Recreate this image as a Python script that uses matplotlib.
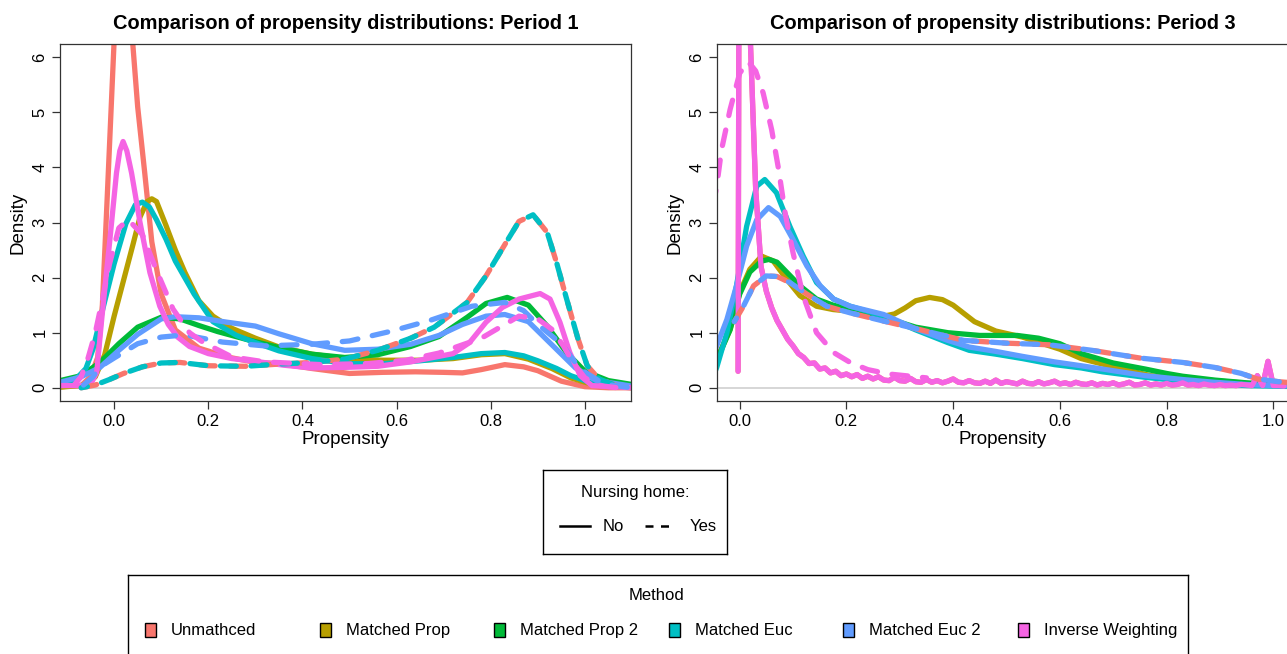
import numpy as np
import matplotlib.pyplot as plt
from matplotlib.patches import Rectangle

methods = ["Unmathced", "Matched Prop", "Matched Prop 2", "Matched Euc", "Matched Euc 2", "Inverse Weighting"]
colors = ["#F8766D", "#B79F00", "#00BA38", "#00BFC4", "#619CFF", "#F564E3"]
nursing = ["No", "Yes"]

# ---- Period 1 : control (No, solid) ----
p1_unm_no_x = [-0.115, -0.07, -0.05, -0.035, -0.025, -0.015, 0.0, 0.01, 0.02, 0.03, 0.04, 0.05, 0.065, 0.08,
               0.1, 0.13, 0.18, 0.24, 0.3, 0.35, 0.42, 0.5, 0.57, 0.64, 0.7, 0.74, 0.78, 0.83, 0.87, 0.9,
               0.95, 1.0, 1.05, 1.1]
p1_unm_no_y = [0.02, 0.04, 0.2, 0.55, 1.5, 3.4, 6.3, 7.4, 7.8, 7.2, 6.2, 5.1, 3.9, 2.65,
               1.7, 1.05, 0.72, 0.56, 0.46, 0.44, 0.35, 0.26, 0.28, 0.29, 0.28, 0.27, 0.33, 0.42, 0.38, 0.31,
               0.12, 0.02, 0.0, 0.0]
p1_mp_no_x = [-0.115, -0.06, -0.04, -0.02, 0.0, 0.02, 0.04, 0.055, 0.07, 0.08, 0.09, 0.11, 0.13, 0.15, 0.18,
              0.21, 0.25, 0.3, 0.35, 0.42, 0.5, 0.57, 0.65, 0.72, 0.78, 0.83, 0.88, 0.93, 0.97, 1.02, 1.1]
p1_mp_no_y = [0.01, 0.05, 0.2, 0.6, 1.3, 1.95, 2.6, 3.1, 3.38, 3.43, 3.38, 2.95, 2.5, 2.1, 1.58,
              1.3, 1.08, 0.9, 0.74, 0.61, 0.52, 0.5, 0.5, 0.53, 0.6, 0.62, 0.52, 0.35, 0.18, 0.05, 0.0]
p1_mp2_no_x = [-0.115, -0.07, -0.03, 0.01, 0.05, 0.1, 0.14, 0.18, 0.22, 0.28, 0.35, 0.42, 0.49, 0.56, 0.63,
               0.69, 0.75, 0.79, 0.835, 0.88, 0.92, 0.96, 1.0, 1.05, 1.1]
p1_mp2_no_y = [0.13, 0.22, 0.46, 0.8, 1.1, 1.28, 1.25, 1.13, 1.02, 0.88, 0.73, 0.61, 0.55, 0.6, 0.75,
               0.93, 1.28, 1.53, 1.64, 1.5, 1.12, 0.65, 0.3, 0.13, 0.06]
p1_me_no_x = [-0.115, -0.085, -0.06, -0.045, -0.025, 0.0, 0.025, 0.045, 0.06, 0.075, 0.09, 0.11, 0.13, 0.17,
              0.21, 0.26, 0.3, 0.35, 0.42, 0.49, 0.56, 0.65, 0.72, 0.78, 0.83, 0.87, 0.9, 0.94, 0.97, 1.02, 1.1]
p1_me_no_y = [0.04, 0.12, 0.35, 0.7, 1.4, 2.25, 2.98, 3.32, 3.37, 3.28, 3.05, 2.7, 2.3, 1.7,
              1.2, 0.95, 0.82, 0.67, 0.53, 0.44, 0.43, 0.49, 0.55, 0.62, 0.64, 0.58, 0.49, 0.35, 0.22, 0.07, 0.01]
p1_me2_no_x = [-0.115, -0.07, -0.03, 0.01, 0.05, 0.1, 0.13, 0.18, 0.24, 0.3, 0.35, 0.42, 0.49, 0.56, 0.63,
               0.69, 0.74, 0.79, 0.83, 0.88, 0.93, 0.98, 1.025, 1.1]
p1_me2_no_y = [0.1, 0.2, 0.37, 0.68, 0.97, 1.25, 1.29, 1.27, 1.19, 1.12, 0.98, 0.8, 0.68, 0.7, 0.79,
               0.95, 1.15, 1.3, 1.33, 1.2, 0.78, 0.36, 0.13, 0.03]
p1_iw_no_x = [-0.115, -0.07, -0.05, -0.037, -0.027, -0.018, -0.009, 0.005, 0.012, 0.019, 0.027, 0.037, 0.055,
              0.076, 0.097, 0.115, 0.135, 0.16, 0.2, 0.25, 0.3, 0.36, 0.42, 0.49, 0.56, 0.63, 0.69, 0.72,
              0.755, 0.79, 0.825, 0.86, 0.905, 0.926, 0.947, 0.968, 0.99, 1.015, 1.1]
p1_iw_no_y = [0.04, 0.04, 0.06, 0.28, 1.19, 1.95, 2.69, 3.9, 4.3, 4.47, 4.3, 3.9, 3.0,
              2.09, 1.48, 1.15, 0.92, 0.75, 0.62, 0.53, 0.48, 0.41, 0.36, 0.37, 0.39, 0.47, 0.57, 0.62,
              0.82, 1.19, 1.46, 1.61, 1.71, 1.61, 1.19, 0.64, 0.22, 0.04, 0.0]

# ---- Period 1 : treated (Yes, dashed) ----
p1_unm_yes_x = [-0.07, -0.04, -0.01, 0.02, 0.06, 0.1, 0.14, 0.2, 0.28, 0.35, 0.42, 0.49, 0.56, 0.63, 0.68,
                0.75, 0.79, 0.83, 0.86, 0.89, 0.92, 0.94, 0.96, 0.985, 1.005, 1.03, 1.07]
p1_unm_yes_y = [0.0, 0.05, 0.15, 0.26, 0.38, 0.45, 0.46, 0.4, 0.39, 0.43, 0.46, 0.52, 0.68, 0.9, 1.1,
                1.55, 2.03, 2.6, 3.02, 3.14, 2.82, 2.27, 1.65, 0.9, 0.4, 0.16, 0.03]
p1_me2_yes_x = [-0.065, -0.045, -0.03, 0.0, 0.05, 0.1, 0.15, 0.23, 0.32, 0.42, 0.5, 0.59, 0.67, 0.76, 0.83,
                0.87, 0.9, 0.95, 0.99, 1.04, 1.09]
p1_me2_yes_y = [0.05, 0.2, 0.38, 0.54, 0.8, 0.92, 0.96, 0.83, 0.76, 0.79, 0.85, 1.03, 1.22, 1.48, 1.55,
                1.4, 1.15, 0.8, 0.34, 0.07, 0.01]
p1_iw_yes_x = [-0.085, -0.07, -0.055, -0.04, -0.025, -0.01, 0.01, 0.03, 0.06, 0.09, 0.125, 0.16, 0.19, 0.25,
               0.32, 0.44, 0.54, 0.62, 0.69, 0.78, 0.86, 0.9, 0.93, 0.955, 0.975, 1.0, 1.03, 1.07]
p1_iw_yes_y = [0.05, 0.2, 0.55, 1.0, 1.6, 2.24, 2.9, 3.05, 2.78, 2.13, 1.43, 1.0, 0.82, 0.56,
               0.47, 0.42, 0.44, 0.5, 0.63, 0.9, 1.3, 1.25, 1.06, 0.75, 0.46, 0.18, 0.04, 0.0]

# ---- Period 3 : control (No, solid) ----
p3_mp_no_x = [-0.05, -0.043, -0.018, 0.0, 0.019, 0.041, 0.063, 0.088, 0.113, 0.144, 0.175, 0.207, 0.24, 0.27,
              0.29, 0.31, 0.33, 0.356, 0.38, 0.40, 0.44, 0.48, 0.53, 0.6, 0.64, 0.68, 0.77, 0.89, 0.95, 1.0, 1.05]
p3_mp_no_y = [0.35, 0.52, 1.06, 1.73, 2.15, 2.39, 2.3, 1.97, 1.67, 1.48, 1.42, 1.39, 1.33, 1.3,
              1.34, 1.45, 1.58, 1.64, 1.6, 1.5, 1.2, 1.03, 0.92, 0.7, 0.53, 0.43, 0.22, 0.13, 0.08, 0.05, 0.03]
p3_mp2_no_x = [-0.05, -0.043, -0.018, 0.0, 0.019, 0.041, 0.055, 0.07, 0.09, 0.113, 0.144, 0.175, 0.207, 0.27,
               0.33, 0.39, 0.45, 0.52, 0.56, 0.6, 0.64, 0.7, 0.76, 0.8, 0.83, 0.89, 0.95, 1.0, 1.05]
p3_mp2_no_y = [0.33, 0.5, 1.05, 1.7, 2.1, 2.3, 2.33, 2.28, 2.08, 1.85, 1.61, 1.5, 1.42, 1.28,
               1.1, 1.0, 0.95, 0.95, 0.9, 0.8, 0.62, 0.45, 0.34, 0.26, 0.21, 0.14, 0.09, 0.06, 0.04]
p3_me_no_x = [-0.05, -0.043, -0.024, -0.006, 0.013, 0.032, 0.047, 0.069, 0.094, 0.119, 0.144, 0.176, 0.207, 0.27,
              0.33, 0.39, 0.43, 0.48, 0.53, 0.59, 0.64, 0.68, 0.76, 0.83, 0.89, 0.95, 1.0, 1.05]
p3_me_no_y = [0.2, 0.37, 1.0, 1.85, 2.93, 3.66, 3.78, 3.54, 2.93, 2.39, 1.91, 1.61, 1.48, 1.3,
              1.05, 0.82, 0.68, 0.61, 0.53, 0.42, 0.36, 0.29, 0.19, 0.12, 0.07, 0.04, 0.03, 0.02]
p3_me2_no_x = [-0.05, -0.043, -0.024, -0.006, 0.013, 0.032, 0.054, 0.076, 0.1, 0.126, 0.151, 0.176, 0.207, 0.27,
               0.33, 0.39, 0.43, 0.48, 0.53, 0.59, 0.64, 0.68, 0.76, 0.83, 0.89, 0.95, 1.0, 1.05]
p3_me2_no_y = [0.6, 0.76, 1.24, 1.85, 2.57, 3.05, 3.27, 3.11, 2.69, 2.21, 1.85, 1.61, 1.48, 1.33,
               1.07, 0.86, 0.74, 0.66, 0.57, 0.47, 0.4, 0.34, 0.22, 0.15, 0.1, 0.06, 0.04, 0.03]
# weighted control density: sharp spike then a noisy tail (grid step 0.01 from 0.06)
p3_iw_no_x = [-0.003, -0.001, 0.008, 0.02, 0.03, 0.04, 0.05] + list(np.round(np.linspace(0.06, 1.02, 97), 2))
p3_iw_no_y = [0.3, 9.0, 14.0, 6.3, 3.6, 2.2, 1.75,
              1.45, 1.22, 1.05, 0.88, 0.76, 0.62, 0.55, 0.44, 0.45, 0.34,
              0.36, 0.27, 0.3, 0.22, 0.25, 0.2, 0.24, 0.17, 0.21, 0.16,
              0.2, 0.14, 0.13, 0.19, 0.13, 0.12, 0.17, 0.11, 0.1, 0.15,
              0.1, 0.13, 0.09, 0.12, 0.16, 0.1, 0.09, 0.13, 0.09, 0.08,
              0.12, 0.08, 0.14, 0.08, 0.11, 0.09, 0.07, 0.12, 0.08, 0.07,
              0.11, 0.07, 0.09, 0.12, 0.07, 0.09, 0.06, 0.1, 0.07, 0.06,
              0.09, 0.05, 0.08, 0.06, 0.09, 0.05, 0.07, 0.1, 0.05, 0.06,
              0.09, 0.05, 0.07, 0.05, 0.08, 0.05, 0.06, 0.09, 0.05, 0.06,
              0.04, 0.07, 0.05, 0.04, 0.06, 0.04, 0.05, 0.04, 0.06, 0.05,
              0.04, 0.22, 0.04, 0.48, 0.04, 0.04, 0.03]
p3_unm_no_x = p3_iw_no_x
p3_unm_no_y = p3_iw_no_y

# ---- Period 3 : treated (Yes, dashed) ----
p3_unm_yes_x = [-0.01, 0.007, 0.026, 0.05, 0.07, 0.094, 0.126, 0.163, 0.207, 0.27, 0.34, 0.42, 0.5, 0.58,
                0.66, 0.75, 0.83, 0.89, 0.94, 0.97, 1.01, 1.05]
p3_unm_yes_y = [1.2, 1.48, 1.85, 2.03, 2.02, 1.91, 1.7, 1.48, 1.36, 1.21, 1.05, 0.86, 0.81, 0.78,
                0.68, 0.54, 0.46, 0.37, 0.26, 0.16, 0.11, 0.08]
p3_iw_yes_x = [-0.05, -0.043, -0.034, -0.018, 0.0, 0.016, 0.03, 0.044, 0.06, 0.073, 0.085, 0.1, 0.119, 0.144,
               0.176, 0.207, 0.24, 0.28, 0.35]
p3_iw_yes_y = [3.3, 3.66, 4.32, 5.05, 5.71, 5.92, 5.75, 5.35, 4.68, 3.96, 3.18, 2.45, 1.67, 1.0,
               0.64, 0.46, 0.33, 0.25, 0.18]

plt.rcParams['font.family'] = ['Liberation Sans', 'DejaVu Sans']
W, H = 1287, 654
fig = plt.figure(figsize=(W / 100, H / 100), dpi=100)


def box(left, top, right, bottom):
    return fig.add_axes([left / W, 1 - bottom / H, (right - left) / W, (bottom - top) / H])


LW = 3.8
DASH = (3.0, 2.8)
EDGE = '#333333'


def panel(ax, solids, dashed, title, xlim):
    ax.axhline(0, color='#d3d3d3', lw=1.3, zorder=0)
    for x, y, c in solids:
        ax.plot(x, y, color=c, lw=LW, solid_capstyle='round', solid_joinstyle='round')
    for x, y, c, off in dashed:
        ax.plot(x, y, color=c, lw=LW, ls=(off, DASH), dash_capstyle='round', dash_joinstyle='round')
    ax.set_xlim(*xlim)
    ax.set_ylim(-0.24, 6.24)
    ax.set_xticks([0, 0.2, 0.4, 0.6, 0.8, 1.0])
    ax.set_xticklabels(["0.0", "0.2", "0.4", "0.6", "0.8", "1.0"])
    ax.set_yticks(range(7))
    plt.setp(ax.get_yticklabels(), rotation=90, va='center')
    ax.tick_params(direction='out', length=6, width=0.9, color=EDGE, labelsize=12, pad=3)
    for s in ax.spines.values():
        s.set_color(EDGE)
        s.set_linewidth(0.9)
    ax.set_xlabel("Propensity", fontsize=13.5, labelpad=2)
    ax.set_ylabel("Density", fontsize=13.5, labelpad=4)
    ax.set_title(title, fontsize=14.4, fontweight='bold', pad=11)


ax1 = box(60, 44, 631, 401)
panel(ax1,
      [(p1_unm_no_x, p1_unm_no_y, colors[0]), (p1_mp_no_x, p1_mp_no_y, colors[1]),
       (p1_mp2_no_x, p1_mp2_no_y, colors[2]), (p1_me_no_x, p1_me_no_y, colors[3]),
       (p1_me2_no_x, p1_me2_no_y, colors[4]), (p1_iw_no_x, p1_iw_no_y, colors[5])],
      [(p1_unm_yes_x, p1_unm_yes_y, colors[0], 0), (p1_unm_yes_x, p1_unm_yes_y, colors[3], 1.8),
       (p1_me2_yes_x, p1_me2_yes_y, colors[4], 0), (p1_iw_yes_x, p1_iw_yes_y, colors[5], 0)],
      "Comparison of propensity distributions: Period 1", (-0.115, 1.098))

ax2 = box(717, 44, 1288, 401)
panel(ax2,
      [(p3_unm_no_x, p3_unm_no_y, colors[0]), (p3_mp_no_x, p3_mp_no_y, colors[1]),
       (p3_mp2_no_x, p3_mp2_no_y, colors[2]), (p3_me_no_x, p3_me_no_y, colors[3]),
       (p3_me2_no_x, p3_me2_no_y, colors[4]), (p3_iw_no_x, p3_iw_no_y, colors[5])],
      [(p3_unm_yes_x, p3_unm_yes_y, colors[0], 0), (p3_unm_yes_x, p3_unm_yes_y, colors[4], 2.2),
       (p3_iw_yes_x, p3_iw_yes_y, colors[5], 0)],
      "Comparison of propensity distributions: Period 3", (-0.0425, 1.0275))

# legend for line type
lg1 = box(543, 470, 727, 554)
lg1.set_xlim(0, 184)
lg1.set_ylim(84, 0)
lg1.set_xticks([])
lg1.set_yticks([])
for s in lg1.spines.values():
    s.set_color('black')
    s.set_linewidth(1.0)
lg1.text(92, 22, "Nursing home:", ha='center', va='center', fontsize=12)
lg1.plot([17, 47], [56, 56], color='black', lw=1.8)
lg1.text(60, 61, nursing[0], ha='left', va='baseline', fontsize=12)
lg1.plot([102, 129], [56, 56], color='black', lw=1.8, ls=(0, (3.2, 3.0)))
lg1.text(147, 61, nursing[1], ha='left', va='baseline', fontsize=12)

# legend for method colours
lg2 = box(128, 575, 1188, 670)
lg2.set_xlim(128, 1188)
lg2.set_ylim(670, 575)
lg2.set_xticks([])
lg2.set_yticks([])
for s in lg2.spines.values():
    s.set_color('black')
    s.set_linewidth(1.0)
lg2.text(656, 595, "Method", ha='center', va='center', fontsize=12)
for i, (m, c) in enumerate(zip(methods, colors)):
    x0 = 145 + 174.6 * i
    lg2.add_patch(Rectangle((x0, 623), 11, 14, facecolor=c, edgecolor='black', lw=1.0))
    lg2.text(x0 + 26, 635, m, ha='left', va='baseline', fontsize=12)

fig.savefig("out.png", dpi=100)
